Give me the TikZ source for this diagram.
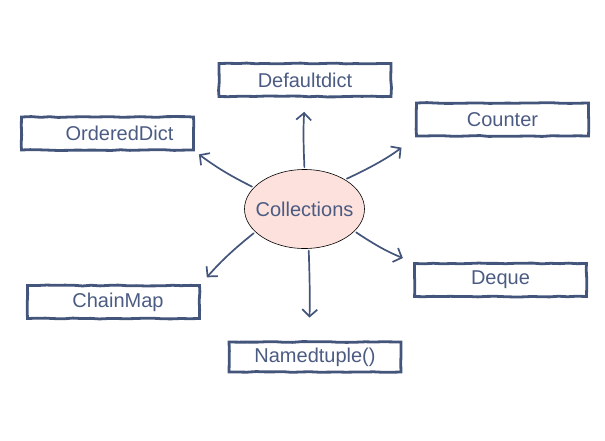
\documentclass[tikz,border=0pt]{standalone}
\usepackage{fontspec}
\setmainfont{Liberation Sans}
\usepackage{tikz}
\usetikzlibrary{arrows.meta,positioning,shapes,decorations.pathmorphing}

\definecolor{inkblue}{HTML}{44557B}
\definecolor{txtblue}{HTML}{4B5B82}
\definecolor{pinkfill}{HTML}{FCE1DC}

\begin{document}
\begin{tikzpicture}[x=1pt,y=-1pt,
	tbox/.style={rectangle,draw=inkblue,line width=2.8pt,minimum width=172pt,minimum height=33pt,inner sep=0pt,
		text=txtblue,font=\fontsize{20}{24}\selectfont,
		decorate,decoration={random steps,segment length=9pt,amplitude=0.45pt}},
	hub/.style={ellipse,draw=black,line width=0.6pt,fill=pinkfill,minimum width=120pt,minimum height=79pt,
		inner xsep=-7pt,inner ysep=0pt,text=txtblue,font=\fontsize{20}{24}\selectfont},
	paths/.style={-{Straight Barb[length=7pt,width=15pt]},draw=inkblue,line width=1.7pt,line cap=round,shorten <=2pt}
	] % End Creating Pieces
\useasboundingbox (0,0) rectangle (605,440);

% center
\node [hub] at (304.5,209) (coll) {Collections};

% boxes
\node [tbox] at (305,80) (defd) {Defaultdict};
\node [tbox] at (502.5,119.5) (cntr) {Counter};
\node [tbox] at (107.5,133.5) (odct) {\hspace*{24pt}OrderedDict};
\node [tbox] at (500.5,280) (deq) {Deque};
\node [tbox] at (113.5,302) (cmap) {\hspace*{9pt}ChainMap};
\node [tbox,minimum height=30pt] at (315,357) (namt) {Namedtuple()};

% paths
\draw[paths,shorten >=14pt] (coll.north) to[bend left=3] (defd.south);
\draw[paths,shorten >=17pt] (coll.36) to[bend right=6] (cntr.south west);
\draw[paths,shorten >=5pt] (coll.157) to[bend left=5] (odct.south east);
\draw[paths,shorten >=9pt] (coll.205) to[bend right=5] (cmap.north east);
\draw[paths,shorten >=11pt] (coll.-24) to[bend right=6] (deq.north west);
\draw[paths,shorten >=23pt] (coll.-84) to[bend left=2] (coll.-84 |- namt.north);

\end{tikzpicture}
\end{document}
